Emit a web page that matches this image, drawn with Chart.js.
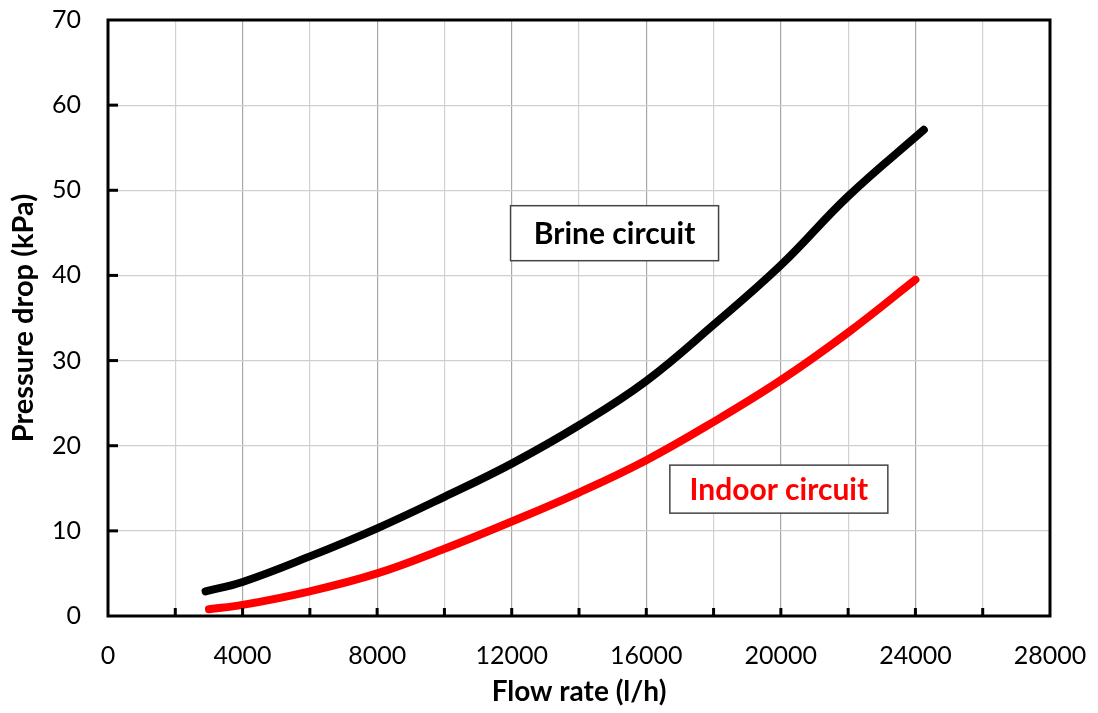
<!DOCTYPE html>
<html>
<head>
<meta charset="utf-8">
<script src="https://cdn.jsdelivr.net/npm/chart.js@4/dist/chart.umd.min.js"></script>
<style>
html, body { margin: 0; padding: 0; background: #fff; }
#wrap { width: 1098px; height: 713px; }
</style>
</head>
<body>
<div id="wrap"><canvas id="myChart" width="1098" height="713"></canvas></div>
<script>
// values
const brineFlow = [2900, 4000, 6000, 8000, 10000, 12000, 14000, 16000, 18000, 20000, 22000, 24250]
const brineDrop = [2.9, 4.0, 7.0, 10.3, 14.0, 17.9, 22.4, 27.6, 34.2, 41.2, 49.3, 57.1]
const indoorFlow = [3000, 4000, 6000, 8000, 10000, 12000, 14000, 16000, 18000, 20000, 22000, 24000]
const indoorDrop = [0.8, 1.3, 2.9, 5.0, 7.9, 11.1, 14.5, 18.3, 22.8, 27.7, 33.3, 39.5]
const xLabels = [0, 4000, 8000, 12000, 16000, 20000, 24000, 28000]
const yLabels = [0, 10, 20, 30, 40, 50, 60, 70]

const FONT = 'Lato, "Open Sans", sans-serif'

function pairs(xs, ys) {
    return xs.map((x, i) => ({ x: x, y: ys[i] }))
}

// frame, inward tick marks and the two label boxes
const extras = {
    id: 'extras',
    afterDatasetsDraw(chart) {
        const { ctx, chartArea: a, scales } = chart
        const sx = scales.x, sy = scales.y
        ctx.save()
        ctx.strokeStyle = '#000'
        ctx.lineWidth = 3
        for (let v = 2000; v < 28000; v += 2000) {
            const px = sx.getPixelForValue(v)
            ctx.beginPath()
            ctx.moveTo(px, a.bottom)
            ctx.lineTo(px, a.bottom - 8)
            ctx.stroke()
        }
        for (let v = 10; v < 70; v += 10) {
            const py = sy.getPixelForValue(v)
            ctx.beginPath()
            ctx.moveTo(a.left, py)
            ctx.lineTo(a.left + 10, py)
            ctx.stroke()
        }
        ctx.strokeRect(a.left, a.top, a.right - a.left, a.bottom - a.top)

        const boxes = [
            { text: 'Brine circuit', color: '#000', x: 15057, y: 44.96, w: 208, h: 55 },
            { text: 'Indoor circuit', color: '#ff0000', x: 19940, y: 14.9, w: 218, h: 48 }
        ]
        boxes.forEach(b => {
            const cx = sx.getPixelForValue(b.x)
            const cy = sy.getPixelForValue(b.y)
            ctx.fillStyle = '#fff'
            ctx.fillRect(cx - b.w / 2, cy - b.h / 2, b.w, b.h)
            ctx.lineWidth = 1.5
            ctx.strokeStyle = '#444'
            ctx.strokeRect(cx - b.w / 2, cy - b.h / 2, b.w, b.h)
            ctx.fillStyle = b.color
            ctx.font = 'bold 30px ' + FONT
            ctx.textAlign = 'center'
            ctx.textBaseline = 'middle'
            ctx.fillText(b.text, cx, cy + 1)
        })
        ctx.restore()
    }
}

function noPad(s) {
    s.paddingTop = 0
    s.paddingBottom = 0
    s.paddingLeft = 0
    s.paddingRight = 0
}

let ctx1 = document.getElementById('myChart')
let myChart = new Chart(ctx1, {
    type: 'scatter',
    data: {
        datasets: [
            {
                label: 'Brine circuit',
                data: pairs(brineFlow, brineDrop),
                showLine: true,
                borderColor: '#000',
                backgroundColor: '#000',
                borderWidth: 8,
                borderCapStyle: 'round',
                pointRadius: 0,
                tension: 0.4,
            },
            {
                label: 'Indoor circuit',
                data: pairs(indoorFlow, indoorDrop),
                showLine: true,
                borderColor: '#ff0000',
                backgroundColor: '#ff0000',
                borderWidth: 8,
                borderCapStyle: 'round',
                pointRadius: 0,
                tension: 0.4,
            }
        ]
    },
    options: {
        responsive: false,
        animation: false,
        devicePixelRatio: 1,
        layout: {
            padding: { top: 20, right: 48, left: 0, bottom: 0 }
        },
        plugins: {
            legend: { display: false },
            tooltip: { enabled: false },
        },
        scales: {
            x: {
                type: 'linear',
                min: 0,
                max: 28000,
                afterFit: s => { s.height = 97; noPad(s) },
                border: { display: false },
                grid: {
                    drawTicks: false,
                    lineWidth: 1.2,
                    color: c => (c.tick && c.tick.value % 4000 === 0) ? '#a8a8a8' : '#d2d2d2',
                },
                ticks: {
                    stepSize: 2000,
                    padding: 25,
                    color: '#000',
                    maxRotation: 0,
                    autoSkip: false,
                    font: { family: FONT, size: 25 },
                    callback: v => xLabels.includes(v) ? String(v) : '',
                },
                title: {
                    display: true,
                    text: 'Flow rate (l/h)',
                    color: '#000',
                    font: { family: FONT, size: 28, weight: 'bold' },
                    padding: { top: 0, bottom: 4 },
                },
            },
            y: {
                type: 'linear',
                min: 0,
                max: 70,
                afterFit: s => { s.width = 108; noPad(s) },
                border: { display: false },
                grid: {
                    drawTicks: false,
                    lineWidth: 1.2,
                    color: '#cfcfcf',
                },
                ticks: {
                    stepSize: 10,
                    padding: 27,
                    color: '#000',
                    font: { family: FONT, size: 25 },
                    callback: v => yLabels.includes(v) ? String(v) : '',
                },
                title: {
                    display: true,
                    text: 'Pressure drop (kPa)',
                    color: '#000',
                    font: { family: FONT, size: 29, weight: 'bold' },
                    padding: { top: 6, bottom: 0 },
                },
            },
        }
    },
    plugins: [extras]
});
</script>
</body>
</html>
